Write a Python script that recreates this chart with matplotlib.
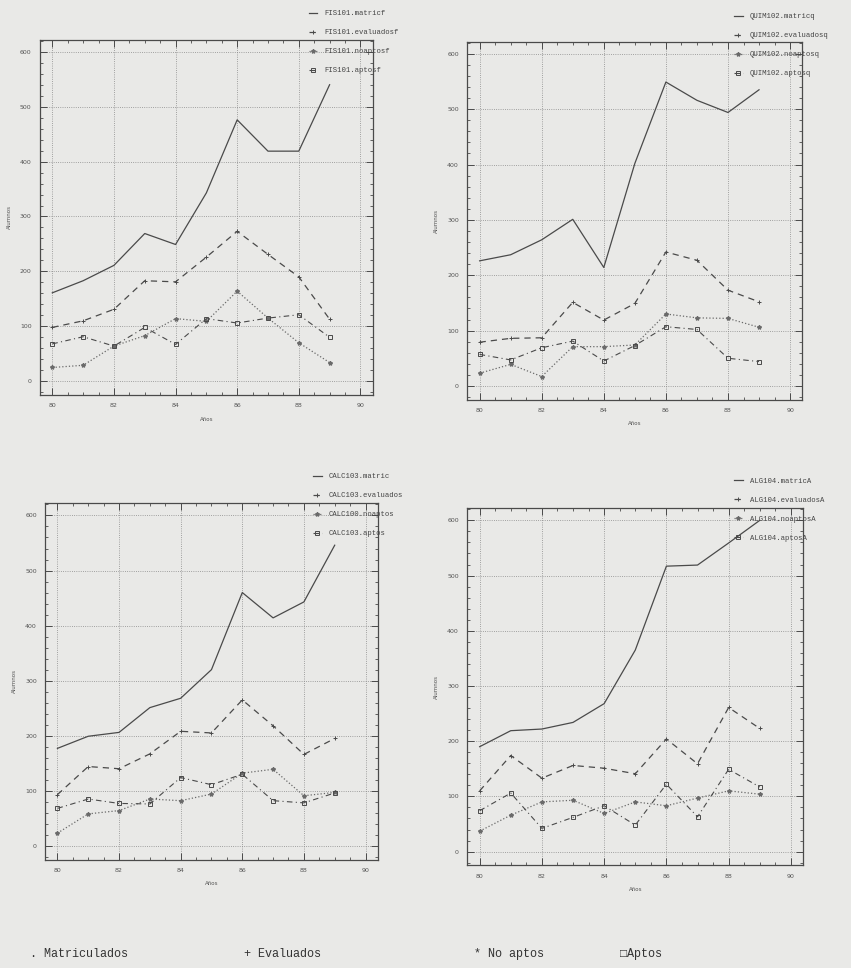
import numpy as np
import matplotlib.pyplot as plt
from matplotlib.ticker import MultipleLocator

# Years on the x axis (80 = 1980)
years = [80, 81, 82, 83, 84, 85, 86, 87, 88, 89]

# FIS101
fis_matric = [161, 183, 211, 269, 249, 343, 476, 419, 419, 540]
fis_evaluados = [98, 110, 131, 183, 181, 226, 273, 231, 190, 113]
fis_noaptos = [25, 29, 64, 83, 114, 109, 164, 115, 70, 34]
fis_aptos = [68, 81, 64, 98, 67, 114, 106, 115, 121, 80]

# QUIM102
quim_matric = [226, 237, 264, 301, 214, 402, 549, 516, 494, 535]
quim_evaluados = [79, 86, 87, 151, 119, 149, 242, 227, 173, 152]
quim_noaptos = [23, 39, 17, 71, 71, 74, 130, 123, 122, 106]
quim_aptos = [57, 47, 69, 81, 45, 73, 107, 102, 50, 44]

# CALC103
calc_matric = [177, 199, 206, 251, 268, 320, 460, 414, 443, 546]
calc_evaluados = [93, 144, 140, 167, 208, 205, 265, 218, 166, 195]
calc_noaptos = [23, 58, 64, 85, 82, 94, 132, 139, 91, 97]
calc_aptos = [68, 85, 77, 76, 124, 111, 130, 82, 78, 96]

# ALG104
alg_matric = [190, 219, 222, 234, 268, 365, 517, 519, 559, 600]
alg_evaluados = [110, 174, 133, 156, 151, 141, 204, 159, 261, 223]
alg_noaptos = [37, 66, 90, 93, 69, 90, 83, 97, 110, 104]
alg_aptos = [74, 106, 42, 62, 83, 48, 122, 63, 149, 117]

legends = [
    ['FIS101.matricf', 'FIS101.evaluadosf', 'FIS101.noaptosf', 'FIS101.aptosf'],
    ['QUIM102.matricq', 'QUIM102.evaluadosq', 'QUIM102.noaptosq', 'QUIM102.aptosq'],
    ['CALC103.matric', 'CALC103.evaluados', 'CALC100.noaptos', 'CALC103.aptos'],
    ['ALG104.matricA', 'ALG104.evaluadosA', 'ALG104.noaptosA', 'ALG104.aptosA'],
]
series = [
    (fis_matric, fis_evaluados, fis_noaptos, fis_aptos),
    (quim_matric, quim_evaluados, quim_noaptos, quim_aptos),
    (calc_matric, calc_evaluados, calc_noaptos, calc_aptos),
    (alg_matric, alg_evaluados, alg_noaptos, alg_aptos),
]

paper = '#e9e9e7'
ink = '#4a4a4a'
mono = ['Liberation Mono', 'DejaVu Sans Mono']

fig = plt.figure(figsize=(8.51, 9.68), dpi=100, facecolor=paper)

# axes boxes (left, bottom, width, height) and legend anchors in figure coords
boxes = [
    [0.047, 0.592, 0.391, 0.367],
    [0.549, 0.587, 0.394, 0.370],
    [0.053, 0.112, 0.391, 0.368],
    [0.549, 0.106, 0.395, 0.369],
]
leg_pos = [(0.355, 0.996), (0.855, 0.993), (0.36, 0.518), (0.855, 0.513)]

for box, data, labels, lp in zip(boxes, series, legends, leg_pos):
    ax = fig.add_axes(box, facecolor=paper)
    m, e, n, a = data
    ax.plot(years, m, '-', color=ink, lw=0.9, label=labels[0])
    ax.plot(years, e, '--', color=ink, lw=0.9, dashes=(5, 4),
            marker='+', ms=3.5, mew=0.7, label=labels[1])
    ax.plot(years, n, ':', color='#6a6a6a', lw=0.9,
            marker='*', ms=3, label=labels[2])
    ax.plot(years, a, '-.', color=ink, lw=0.8, dashes=(5, 3, 1, 3),
            marker='s', ms=3.2, mfc='none', mew=0.7, label=labels[3])

    ax.set_xlim(79.6, 90.4)
    ax.set_ylim(-25, 622)
    ax.xaxis.set_major_locator(MultipleLocator(2))
    ax.xaxis.set_minor_locator(MultipleLocator(0.5))
    ax.yaxis.set_major_locator(MultipleLocator(100))
    ax.yaxis.set_minor_locator(MultipleLocator(20))
    ax.tick_params(which='both', direction='in', top=True, right=True,
                   color=ink, labelsize=4.5, labelcolor='#555555')
    ax.tick_params(which='major', length=5, width=0.7, pad=6)
    ax.tick_params(which='minor', length=2.5, width=0.6)
    ax.grid(True, which='major', ls=':', lw=0.6, color='#888888')
    for s in ax.spines.values():
        s.set_color(ink)
        s.set_linewidth(0.9)
    ax.set_xlabel('Años', fontsize=4, color='#555555', labelpad=6)
    ax.set_ylabel('Alumnos', fontsize=4, color='#555555', labelpad=6)

    ax.legend(loc='upper left', bbox_to_anchor=lp, bbox_transform=fig.transFigure,
              frameon=False, prop={'family': mono, 'size': 5.2}, handlelength=1.2,
              labelspacing=1.65, handletextpad=1.0, labelcolor='#444444')

caption = [(0.035, '. Matriculados'), (0.287, '+ Evaluados'),
           (0.557, '* No aptos'), (0.728, '□Aptos')]
for x, t in caption:
    fig.text(x, 0.008, t, fontsize=8.5, family=mono,
             color='#333333', ha='left', va='bottom')

fig.savefig('out.png', dpi=100, facecolor=paper)
